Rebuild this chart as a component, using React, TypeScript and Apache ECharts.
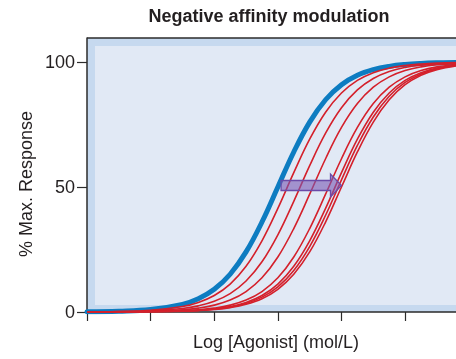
import React, { useEffect, useRef } from "react";
import * as echarts from "echarts";

// log agonist concentration (axis units, one tick = one log unit)
const LOG_DOSE = [0, 0.5, 1, 1.5, 1.75, 2, 2.25, 2.5, 2.75, 3, 3.25, 3.5, 3.75, 4, 4.25, 4.5, 4.75, 5, 5.25, 5.5, 5.8];

// % max response, control curve (blue)
const CONTROL = [0.1, 0.32, 0.99, 3.07, 5.32, 9.09, 15.1, 24.03, 35.99, 50, 64.01, 75.97, 84.9, 90.91, 94.68, 96.93, 98.25, 99.01, 99.44, 99.68, 99.84];

// % max response with increasing modulator concentrations (red)
const MOD_1 = [0.07, 0.22, 0.7, 2.19, 3.83, 6.61, 11.18, 18.29, 28.47, 41.45, 55.73, 69.12, 79.92, 87.62, 92.64, 95.72, 97.55, 98.61, 99.21, 99.56, 99.78];
const MOD_2 = [0.04, 0.14, 0.44, 1.39, 2.45, 4.28, 7.36, 12.38, 20.08, 30.88, 44.27, 58.55, 71.53, 81.71, 88.82, 93.39, 96.17, 97.81, 98.76, 99.3, 99.65];
const MOD_3 = [0.03, 0.09, 0.28, 0.88, 1.56, 2.74, 4.77, 8.18, 13.68, 21.99, 33.39, 47.13, 61.31, 73.81, 83.37, 89.91, 94.06, 96.57, 98.04, 98.89, 99.44];
const MOD_4 = [0.02, 0.05, 0.16, 0.5, 0.88, 1.56, 2.74, 4.77, 8.18, 13.68, 21.99, 33.39, 47.13, 61.31, 73.81, 83.37, 89.91, 94.06, 96.57, 98.04, 99.01];
const MOD_5 = [0.01, 0.04, 0.13, 0.4, 0.7, 1.24, 2.19, 3.83, 6.61, 11.18, 18.29, 28.47, 41.45, 55.73, 69.12, 79.92, 87.62, 92.64, 95.72, 97.55, 98.76];
const MOD_6 = [0.01, 0.04, 0.11, 0.35, 0.63, 1.11, 1.96, 3.43, 5.94, 10.09, 16.63, 26.19, 38.69, 52.87, 66.61, 78.01, 86.32, 91.82, 95.23, 97.26, 98.61];
const MOD_7 = [0.01, 0.03, 0.1, 0.32, 0.56, 0.99, 1.75, 3.07, 5.32, 9.09, 15.1, 24.03, 35.99, 50, 64.01, 75.97, 84.9, 90.91, 94.68, 96.93, 98.44];

const MODULATED = [MOD_1, MOD_2, MOD_3, MOD_4, MOD_5, MOD_6, MOD_7];

const X_TICKS = [0, 1, 2, 3, 4, 5];
const Y_TICKS = [0, 50, 100];
const X_MAX = 5.8;
const Y_MAX = 109.6;

// arrow annotation (data units)
const ARROW_FROM = 3.05;
const ARROW_TO = 4.0;
const ARROW_Y = 50.6;

const TITLE = "Negative affinity modulation";
const X_NAME = "Log [Agonist] (mol/L)";
const Y_NAME = "% Max. Response";

export default function App() {
  const ref = useRef<HTMLDivElement>(null);

  useEffect(() => {
    const chart = echarts.init(ref.current!, null, { renderer: "svg" });
    const font = "'Liberation Sans', Arial, Helvetica, sans-serif";
    const pair = (ys: number[]) => LOG_DOSE.map((x, i) => [x, ys[i]]);

    const series: any[] = [
      {
        type: "line",
        data: pair(CONTROL),
        symbol: "none",
        smooth: 0.4,
        lineStyle: { color: "#0d7cc1", width: 5, cap: "round" },
        z: 2,
      },
      ...MODULATED.map((ys) => ({
        type: "line",
        data: pair(ys),
        symbol: "none",
        smooth: 0.4,
        lineStyle: { color: "#d4202b", width: 1.6 },
        z: 3,
      })),
    ];

    chart.setOption({
      animation: false,
      grid: {
        left: 87,
        top: 38,
        right: 0,
        bottom: 47,
        show: true,
        backgroundColor: "#c6d9ef",
        borderWidth: 0,
      },
      xAxis: {
        type: "value",
        min: 0,
        max: X_MAX,
        interval: 1,
        axisLine: { show: true, lineStyle: { color: "#2b2b2b", width: 1.5 } },
        axisTick: { show: true, inside: false, length: 9, customValues: X_TICKS, lineStyle: { color: "#2b2b2b", width: 1.2 } },
        axisLabel: { show: false },
        splitLine: { show: false },
      },
      yAxis: {
        type: "value",
        min: 0,
        max: Y_MAX,
        interval: 50,
        axisLine: { show: true, onZero: false, lineStyle: { color: "#2b2b2b", width: 1.5 } },
        axisTick: { show: true, inside: false, length: 10, customValues: Y_TICKS, lineStyle: { color: "#2b2b2b", width: 1.2 } },
        axisLabel: { show: true, customValues: Y_TICKS, margin: 12, fontSize: 18, color: "#231f20", fontFamily: font },
        splitLine: { show: false },
      },
      series,
    });

    const p = (x: number, y: number) => chart.convertToPixel({ gridIndex: 0 }, [x, y]) as number[];
    const tl = p(0, Y_MAX);
    const br = p(X_MAX, 0);
    const a0 = p(ARROW_FROM, ARROW_Y);
    const a1 = p(ARROW_TO, ARROW_Y);
    const bodyH = 5;
    const headH = 11.5;
    const headL = 11;
    const ay = a0[1];

    chart.setOption({
      graphic: [
        {
          type: "rect",
          z: 1,
          silent: true,
          shape: { x: tl[0] + 8, y: tl[1] + 8, width: br[0] - tl[0] + 20, height: br[1] - tl[1] - 15 },
          style: { fill: "#e1e9f5" },
        },
        {
          type: "line",
          z: 1,
          silent: true,
          shape: { x1: tl[0], y1: tl[1], x2: br[0] + 5, y2: tl[1] },
          style: { stroke: "#2b2b2b", lineWidth: 1.5 },
        },
        {
          type: "polygon",
          z: 10,
          silent: true,
          shape: {
            points: [
              [a0[0], ay - bodyH],
              [a1[0] - headL, ay - bodyH],
              [a1[0] - headL, ay - headH],
              [a1[0], ay],
              [a1[0] - headL, ay + headH],
              [a1[0] - headL, ay + bodyH],
              [a0[0], ay + bodyH],
            ],
          },
          style: { fill: "rgba(120, 88, 180, 0.6)", stroke: "#6a4aa8", lineWidth: 1.3 },
        },
        {
          type: "text",
          x: 269,
          y: 16,
          style: { text: TITLE, font: `bold 18px ${font}`, fill: "#231f20", textAlign: "center", textVerticalAlign: "middle" },
        },
        {
          type: "text",
          x: 276,
          y: 342,
          style: { text: X_NAME, font: `18px ${font}`, fill: "#231f20", textAlign: "center", textVerticalAlign: "middle" },
        },
        {
          type: "text",
          x: 26,
          y: 184,
          rotation: Math.PI / 2,
          style: { text: Y_NAME, font: `18px ${font}`, fill: "#231f20", textAlign: "center", textVerticalAlign: "middle" },
        },
      ],
    });

    return () => chart.dispose();
  }, []);

  return <div ref={ref} style={{ position: "fixed", left: 0, top: 0, width: 456, height: 359 }} />;
}
